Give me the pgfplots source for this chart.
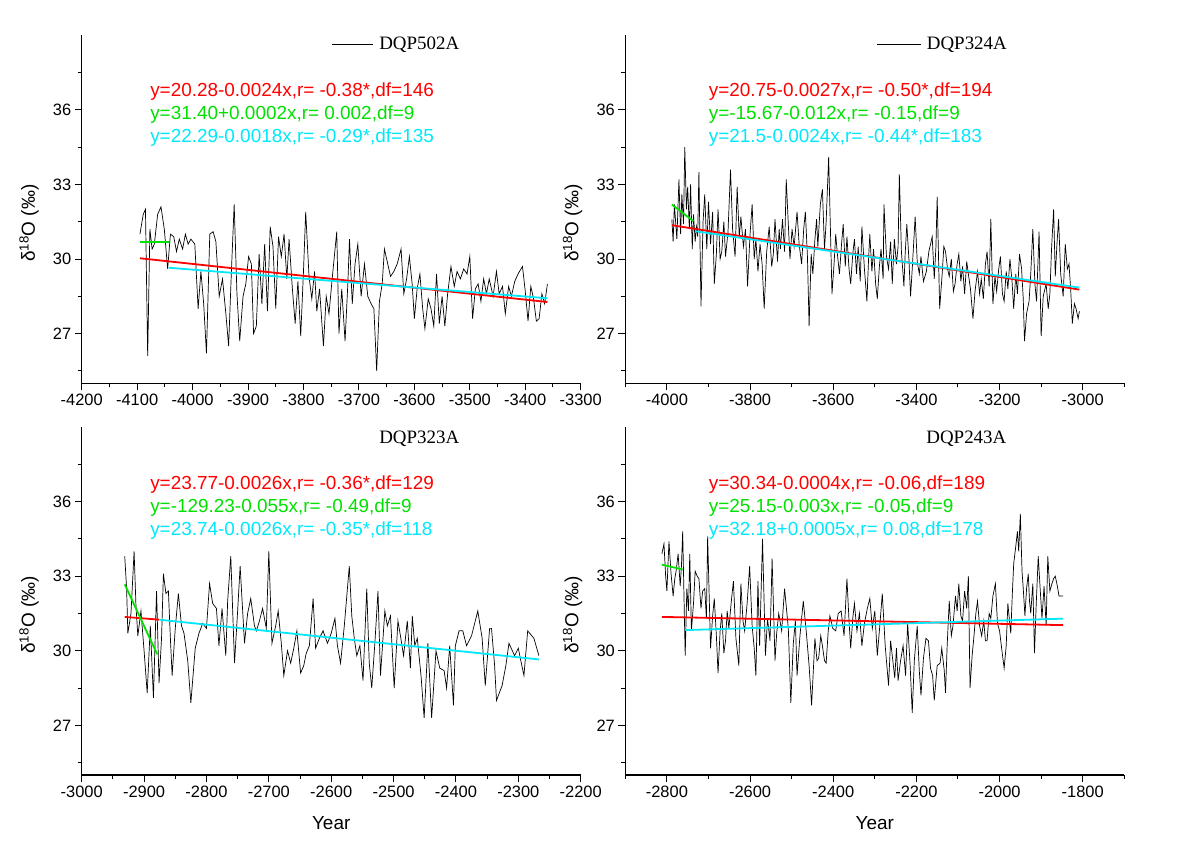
\documentclass[border=0pt]{standalone}
\usepackage{fontspec}
\setmainfont{Liberation Sans}
\newfontfamily\timesf{Liberation Serif}
\usepackage{pgfplots}
\pgfplotsset{compat=1.18}
\definecolor{rl}{RGB}{255,0,0}
\definecolor{gl}{RGB}{0,225,0}
\definecolor{cl}{RGB}{0,232,250}
\tikzset{
 eq/.style={anchor=west, inner sep=0pt, font=\fontsize{19}{19}\selectfont},
 ttl/.style={anchor=west, inner sep=0pt, font=\timesf\fontsize{19}{19}\selectfont},
}
\pgfplotsset{
 panel/.style={
   scale only axis, width=499bp, height=348bp,
   ymin=25, ymax=39, ytick={27,30,33,36}, minor ytick={25.5,28.5,31.5,34.5,37.5},
   axis x line*=bottom, axis y line*=left,
   axis line style={line width=1.1bp, -},
   tick align=outside, major tick length=7bp, minor tick length=4bp,
   every tick/.style={black, line width=1bp},
   tick label style={font=\fontsize{16.5}{16.5}\selectfont},
   /pgf/number format/assume math mode=true,
   /pgf/number format/1000 sep={},
   ylabel={δ\textsuperscript{18}O (‰)},
   ylabel style={at={(axis description cs:-0.1056,0.46)}, anchor=center, font=\fontsize{19}{19}\selectfont},
   xlabel style={at={(axis description cs:0.5,-0.138)}, anchor=center, font=\fontsize{19}{19}\selectfont},
 },
 ser/.style={black, line width=0.7bp, no marks},
 reg/.style={line width=1.8bp, no marks},
}
\begin{document}
\begin{tikzpicture}
\useasboundingbox (0,0) rectangle (1184bp,-843bp);
% ---------------- Panel 1
\begin{axis}[panel, at={(81.7bp,-383.3bp)}, anchor=south west,
  xmin=-4200, xmax=-3300, xtick={-4200,-4100,...,-3300}, minor xtick={-4150,-4050,...,-3350}]
\addplot[ser] coordinates {
(-4095,31.0)(-4089,31.8)(-4085,32.0)(-4081,26.1)(-4077,31.2)(-4073,30.4)(-4069,30.6)(-4063,31.8)(-4057,32.1)(-4051,31.2)
(-4045,29.6)(-4040,31.0)(-4034,30.9)(-4029,30.3)(-4024,30.8)(-4018,30.4)(-4013,31.0)(-4008,30.6)(-4003,30.8)(-3996,30.6)
(-3990,28.0)(-3985,29.5)(-3980,28.2)(-3975,26.2)(-3969,31.0)(-3963,31.1)(-3958,30.7)(-3952,28.5)(-3946,29.2)(-3940,27.8)
(-3935,26.5)(-3930,29.5)(-3925,32.2)(-3920,28.6)(-3915,26.7)(-3909,28.5)(-3904,29.0)(-3899,30.1)(-3894,29.8)(-3890,27.0)
(-3885,27.3)(-3880,30.2)(-3875,28.2)(-3870,30.6)(-3865,27.9)(-3860,31.3)(-3855,30.5)(-3850,28.0)(-3845,30.9)(-3840,30.1)
(-3835,31.0)(-3830,29.2)(-3826,30.8)(-3820,28.8)(-3815,27.4)(-3810,29.1)(-3805,26.9)(-3800,29.5)(-3796,31.9)(-3790,29.3)
(-3785,28.4)(-3780,29.5)(-3776,27.9)(-3771,28.8)(-3764,26.5)(-3759,28.5)(-3754,27.8)(-3747,29.5)(-3740,31.1)(-3736,27.0)
(-3731,28.8)(-3725,26.7)(-3720,29.0)(-3717,30.8)(-3712,28.2)(-3707,29.8)(-3702,30.6)(-3696,28.5)(-3690,29.8)(-3684,28.5)
(-3678,28.2)(-3673,28.0)(-3668,25.5)(-3663,28.3)(-3658,29.0)(-3654,30.4)(-3648,29.8)(-3643,29.3)(-3637,29.5)(-3631,29.8)
(-3624,30.4)(-3619,28.6)(-3614,29.2)(-3609,30.1)(-3604,29.0)(-3600,27.6)(-3595,28.8)(-3590,29.4)(-3585,28.0)(-3581,27.2)
(-3575,28.4)(-3570,28.0)(-3565,27.3)(-3560,29.4)(-3555,27.4)(-3550,28.5)(-3545,27.3)(-3540,28.6)(-3534,29.7)(-3528,28.9)
(-3523,29.5)(-3517,29.2)(-3511,29.6)(-3505,29.4)(-3500,30.1)(-3495,27.6)(-3490,28.8)(-3485,29.0)(-3480,28.3)(-3475,29.2)
(-3470,28.6)(-3465,29.2)(-3458,28.5)(-3452,29.5)(-3447,28.6)(-3441,28.9)(-3436,27.8)(-3430,28.9)(-3425,28.5)(-3419,29.1)
(-3413,29.4)(-3405,29.7)(-3400,28.7)(-3395,27.5)(-3390,28.9)(-3385,28.4)(-3380,27.5)(-3375,27.6)(-3370,28.6)(-3365,28.2)(-3360,29.0)};
\addplot[reg, rl] coordinates {(-4095,30.03)(-3360,28.27)};
\addplot[reg, gl] coordinates {(-4095,30.70)(-4043,30.70)};
\addplot[reg, cl] coordinates {(-4043,29.65)(-3360,28.42)};
\draw[black, line width=0.8bp] (axis description cs:0.502,0.974) -- (axis description cs:0.584,0.974);
\node[ttl] at (axis description cs:0.596,0.974) {DQP502A};
\node[eq, text=rl] at (axis description cs:0.137,0.839) {y=20.28-0.0024x,r= -0.38*,df=146};
\node[eq, text=gl] at (axis description cs:0.137,0.773) {y=31.40+0.0002x,r= 0.002,df=9};
\node[eq, text=cl] at (axis description cs:0.137,0.707) {y=22.29-0.0018x,r= -0.29*,df=135};
\end{axis}
% ---------------- Panel 2
\begin{axis}[panel, at={(625.3bp,-383.3bp)}, anchor=south west,
  xmin=-4100, xmax=-2900, xtick={-4000,-3800,...,-3000}, minor xtick={-4100,-3900,...,-2900}]
\addplot[ser] coordinates {
(-3988,31.6)(-3985,30.7)(-3982,32.2)(-3976,30.8)(-3971,33.2)(-3967,31.0)(-3964,32.6)(-3960,31.4)(-3957,34.5)(-3953,32.0)
(-3950,32.9)(-3946,31.2)(-3943,33.0)(-3939,30.4)(-3936,31.8)(-3932,30.7)(-3929,31.3)(-3926,30.9)(-3923,33.5)(-3918,28.1)
(-3913,31.5)(-3909,32.6)(-3904,30.4)(-3900,32.3)(-3895,30.6)(-3890,31.9)(-3886,29.0)(-3881,30.2)(-3877,32.0)(-3872,30.0)
(-3868,30.3)(-3863,31.5)(-3859,30.1)(-3853,31.1)(-3847,33.6)(-3842,31.2)(-3836,30.1)(-3831,32.9)(-3826,30.9)(-3822,31.7)
(-3816,30.5)(-3811,31.2)(-3806,28.9)(-3800,31.0)(-3795,32.2)(-3790,30.0)(-3786,30.8)(-3781,29.5)(-3776,30.6)(-3771,29.8)
(-3766,28.0)(-3760,30.3)(-3754,31.3)(-3748,29.7)(-3744,30.2)(-3740,31.6)(-3734,29.9)(-3730,31.2)(-3727,30.4)(-3722,31.6)
(-3717,30.3)(-3713,33.2)(-3708,31.4)(-3704,30.0)(-3699,31.2)(-3694,30.5)(-3687,31.9)(-3682,30.6)(-3676,29.8)(-3671,31.2)
(-3667,31.9)(-3662,30.1)(-3658,27.3)(-3653,30.2)(-3649,29.4)(-3644,30.8)(-3640,31.6)(-3637,30.5)(-3631,32.2)(-3626,32.8)
(-3621,30.4)(-3617,31.5)(-3611,34.1)(-3606,30.7)(-3603,28.6)(-3598,29.8)(-3594,31.0)(-3590,30.2)(-3585,29.4)(-3580,30.6)
(-3576,31.4)(-3571,29.7)(-3567,30.9)(-3562,29.6)(-3558,29.0)(-3553,30.2)(-3549,30.8)(-3544,29.4)(-3540,30.5)(-3535,29.1)
(-3531,31.3)(-3525,29.6)(-3519,28.3)(-3515,30.0)(-3512,31.0)(-3507,29.5)(-3503,30.4)(-3498,29.0)(-3494,28.4)(-3489,29.7)
(-3485,30.4)(-3480,29.2)(-3478,32.2)(-3472,30.1)(-3467,29.6)(-3462,30.7)(-3458,29.0)(-3453,30.8)(-3448,29.8)(-3444,30.5)
(-3441,33.4)(-3436,30.3)(-3430,28.9)(-3427,30.2)(-3423,31.4)(-3418,30.0)(-3414,28.5)(-3410,29.6)(-3403,31.7)(-3398,29.9)
(-3393,29.4)(-3389,30.1)(-3383,29.1)(-3376,29.5)(-3370,30.3)(-3362,30.9)(-3357,29.2)(-3353,30.5)(-3350,32.5)(-3344,28.0)
(-3338,29.4)(-3334,30.5)(-3330,30.3)(-3325,29.6)(-3321,29.3)(-3316,30.0)(-3311,28.7)(-3307,29.0)(-3302,29.8)(-3298,30.2)
(-3293,29.1)(-3289,29.7)(-3284,28.6)(-3279,29.9)(-3275,29.4)(-3270,28.8)(-3264,27.6)(-3259,28.7)(-3253,29.5)(-3248,28.6)
(-3244,29.2)(-3239,28.4)(-3234,29.8)(-3230,30.3)(-3225,28.9)(-3221,31.6)(-3216,28.2)(-3211,29.3)(-3207,28.7)(-3202,29.6)
(-3198,30.1)(-3193,28.6)(-3189,28.3)(-3184,29.5)(-3180,28.8)(-3175,30.0)(-3170,29.1)(-3166,28.0)(-3161,29.4)(-3157,28.6)
(-3152,30.2)(-3147,29.6)(-3143,28.4)(-3140,26.7)(-3135,27.8)(-3129,28.3)(-3125,29.4)(-3120,31.2)(-3115,29.0)(-3111,28.3)
(-3105,31.1)(-3100,26.9)(-3095,28.5)(-3088,29.0)(-3083,28.0)(-3079,28.6)(-3075,30.4)(-3070,32.0)(-3066,29.3)(-3062,30.6)
(-3058,31.6)(-3053,29.4)(-3047,28.5)(-3042,30.6)(-3037,29.6)(-3033,29.8)(-3029,28.8)(-3025,27.4)(-3020,28.2)(-3016,28.0)
(-3011,27.6)(-3008,27.9)};
\addplot[reg, rl] coordinates {(-3988,31.36)(-3008,28.77)};
\addplot[reg, gl] coordinates {(-3988,32.19)(-3936,31.52)};
\addplot[reg, cl] coordinates {(-3932,31.12)(-3008,28.85)};
\draw[black, line width=0.8bp] (axis description cs:0.504,0.974) -- (axis description cs:0.592,0.974);
\node[ttl] at (axis description cs:0.604,0.974) {DQP324A};
\node[eq, text=rl] at (axis description cs:0.167,0.839) {y=20.75-0.0027x,r= -0.50*,df=194};
\node[eq, text=gl] at (axis description cs:0.167,0.773) {y=-15.67-0.012x,r= -0.15,df=9};
\node[eq, text=cl] at (axis description cs:0.167,0.707) {y=21.5-0.0024x,r= -0.44*,df=183};
\end{axis}
% ---------------- Panel 3
\begin{axis}[panel, at={(81.7bp,-775bp)}, anchor=south west, xlabel={Year},
  xmin=-3000, xmax=-2200, xtick={-3000,-2900,...,-2200}, minor xtick={-2950,-2850,...,-2250}]
\addplot[ser] coordinates {
(-2931,33.8)(-2928,32.5)(-2926,30.7)(-2921,31.5)(-2916,34.0)(-2913,31.8)(-2910,30.6)(-2905,31.6)(-2900,30.0)(-2895,28.3)
(-2890,31.0)(-2885,28.1)(-2880,32.4)(-2876,28.7)(-2872,30.5)(-2869,33.1)(-2865,32.3)(-2861,32.4)(-2858,30.6)(-2855,29.0)
(-2850,30.9)(-2845,32.3)(-2840,31.0)(-2836,30.7)(-2830,29.6)(-2825,27.9)(-2818,30.1)(-2812,30.7)(-2806,31.1)(-2800,30.9)
(-2795,32.7)(-2790,31.9)(-2784,31.7)(-2780,30.2)(-2775,31.7)(-2769,29.8)(-2766,32.0)(-2761,33.8)(-2755,29.5)(-2750,31.6)
(-2746,33.4)(-2739,30.3)(-2734,31.5)(-2729,32.1)(-2723,31.0)(-2720,30.8)(-2715,31.2)(-2710,31.7)(-2704,30.9)(-2700,34.0)
(-2695,30.3)(-2689,31.0)(-2685,31.6)(-2680,30.3)(-2676,29.0)(-2670,30.0)(-2665,29.5)(-2660,30.1)(-2655,30.8)(-2649,29.1)
(-2644,29.4)(-2640,29.9)(-2635,30.2)(-2629,32.1)(-2625,30.1)(-2619,30.5)(-2613,30.8)(-2606,30.3)(-2600,30.7)(-2594,31.3)
(-2590,30.2)(-2585,29.5)(-2579,31.0)(-2575,32.2)(-2571,33.4)(-2567,31.4)(-2563,30.5)(-2559,29.8)(-2554,30.2)(-2549,28.8)
(-2543,32.5)(-2539,29.5)(-2535,28.5)(-2530,30.3)(-2525,32.4)(-2521,29.0)(-2514,31.6)(-2510,31.0)(-2505,31.4)(-2499,28.5)
(-2493,31.2)(-2489,30.6)(-2484,29.8)(-2478,31.2)(-2473,29.3)(-2470,31.4)(-2466,30.2)(-2462,30.5)(-2456,29.0)(-2451,27.3)
(-2445,30.3)(-2439,27.3)(-2432,30.0)(-2426,29.3)(-2419,29.2)(-2415,28.5)(-2410,30.2)(-2404,27.8)(-2401,30.2)(-2395,30.8)
(-2389,30.8)(-2383,30.2)(-2375,30.6)(-2370,31.1)(-2365,31.6)(-2358,30.5)(-2353,28.6)(-2346,30.9)(-2343,30.9)(-2338,29.4)
(-2335,28.0)(-2326,28.6)(-2320,29.4)(-2315,30.3)(-2306,29.8)(-2300,30.1)(-2296,29.6)(-2291,29.0)(-2285,30.8)(-2275,30.5)(-2267,29.8)};
\addplot[reg, rl] coordinates {(-2931,31.36)(-2876,31.25)};
\addplot[reg, gl] coordinates {(-2931,32.67)(-2879,29.86)};
\addplot[reg, cl] coordinates {(-2876,31.25)(-2267,29.65)};
\node[ttl] at (axis description cs:0.596,0.966) {DQP323A};
\node[eq, text=rl] at (axis description cs:0.137,0.834) {y=23.77-0.0026x,r= -0.36*,df=129};
\node[eq, text=gl] at (axis description cs:0.137,0.768) {y=-129.23-0.055x,r= -0.49,df=9};
\node[eq, text=cl] at (axis description cs:0.137,0.702) {y=23.74-0.0026x,r= -0.35*,df=118};
\end{axis}
% ---------------- Panel 4
\begin{axis}[panel, at={(625.3bp,-775bp)}, anchor=south west, xlabel={Year},
  xmin=-2900, xmax=-1700, xtick={-2800,-2600,...,-1800}, minor xtick={-2900,-2700,...,-1700}]
\addplot[ser] coordinates {
(-2812,33.9)(-2807,34.3)(-2803,33.0)(-2800,32.4)(-2795,34.4)(-2790,33.1)(-2785,32.2)(-2781,32.9)(-2777,33.3)(-2773,33.9)
(-2768,32.6)(-2765,33.4)(-2762,34.8)(-2756,29.8)(-2752,32.5)(-2748,31.6)(-2745,33.9)(-2741,30.8)(-2736,31.9)(-2732,33.2)
(-2727,33.0)(-2723,32.9)(-2718,31.7)(-2714,32.4)(-2709,32.5)(-2705,31.3)(-2702,34.6)(-2695,30.1)(-2690,31.4)(-2686,32.1)
(-2681,30.6)(-2677,29.1)(-2672,30.8)(-2668,31.5)(-2663,29.9)(-2659,30.4)(-2655,31.6)(-2651,30.9)(-2645,32.0)(-2640,32.8)
(-2634,30.5)(-2627,29.4)(-2622,32.7)(-2617,31.2)(-2613,30.8)(-2607,31.9)(-2601,33.4)(-2595,31.0)(-2590,30.1)(-2586,29.0)
(-2581,32.8)(-2577,30.2)(-2570,34.5)(-2563,29.8)(-2558,31.3)(-2552,30.4)(-2547,33.7)(-2540,29.6)(-2536,30.7)(-2531,31.5)
(-2524,30.8)(-2517,32.5)(-2508,30.9)(-2502,27.9)(-2496,30.3)(-2491,31.2)(-2487,29.0)(-2480,30.6)(-2472,32.0)(-2465,30.8)
(-2458,29.4)(-2452,27.8)(-2444,30.5)(-2439,29.6)(-2435,29.7)(-2430,30.6)(-2426,30.2)(-2421,29.6)(-2417,29.5)(-2412,30.8)
(-2408,31.4)(-2401,30.9)(-2394,30.8)(-2388,31.5)(-2381,31.6)(-2374,30.6)(-2367,32.9)(-2362,31.2)(-2358,30.1)(-2353,31.3)
(-2349,31.9)(-2343,30.8)(-2337,31.5)(-2331,30.2)(-2325,31.1)(-2318,31.7)(-2312,32.1)(-2306,30.9)(-2300,31.6)(-2294,29.8)
(-2288,31.0)(-2282,32.3)(-2275,30.2)(-2270,29.2)(-2267,28.6)(-2262,30.4)(-2258,29.8)(-2252,28.9)(-2248,30.1)(-2244,28.8)
(-2238,29.6)(-2232,30.2)(-2226,29.0)(-2221,31.1)(-2215,29.4)(-2210,27.5)(-2205,29.6)(-2198,31.0)(-2193,29.2)(-2189,28.2)
(-2183,29.7)(-2177,30.5)(-2171,30.4)(-2166,29.3)(-2161,29.0)(-2157,28.0)(-2150,29.4)(-2143,29.5)(-2139,30.1)(-2133,29.2)
(-2130,28.3)(-2126,30.2)(-2121,32.0)(-2116,30.6)(-2112,31.0)(-2106,32.2)(-2102,31.6)(-2098,32.7)(-2093,31.4)(-2089,31.2)
(-2084,32.4)(-2079,31.7)(-2075,33.0)(-2071,28.5)(-2066,29.8)(-2062,30.5)(-2057,31.5)(-2053,32.0)(-2048,31.0)(-2043,30.6)
(-2038,31.2)(-2034,30.4)(-2030,30.4)(-2025,31.5)(-2021,31.3)(-2016,32.2)(-2010,32.7)(-2005,31.1)(-2000,30.8)(-1995,30.1)
(-1989,29.3)(-1984,30.2)(-1980,31.9)(-1975,31.0)(-1973,30.7)(-1969,32.4)(-1966,33.5)(-1961,34.2)(-1957,34.8)(-1954,34.0)
(-1950,35.5)(-1946,33.2)(-1943,32.5)(-1939,31.4)(-1935,32.5)(-1931,33.1)(-1928,32.0)(-1925,31.5)(-1920,32.7)(-1916,29.9)
(-1912,31.8)(-1907,33.8)(-1902,32.4)(-1898,31.3)(-1893,32.6)(-1888,31.0)(-1884,33.8)(-1879,32.4)(-1874,32.7)(-1870,32.9)
(-1866,33.0)(-1861,32.6)(-1857,32.2)(-1847,32.2)};
\addplot[reg, rl] coordinates {(-2812,31.36)(-1847,31.03)};
\addplot[reg, gl] coordinates {(-2812,33.46)(-2762,33.27)};
\addplot[reg, cl] coordinates {(-2756,30.83)(-1847,31.29)};
\node[ttl] at (axis description cs:0.603,0.966) {DQP243A};
\node[eq, text=rl] at (axis description cs:0.167,0.834) {y=30.34-0.0004x,r= -0.06,df=189};
\node[eq, text=gl] at (axis description cs:0.167,0.768) {y=25.15-0.003x,r= -0.05,df=9};
\node[eq, text=cl] at (axis description cs:0.167,0.702) {y=32.18+0.0005x,r= 0.08,df=178};
\end{axis}
\end{tikzpicture}
\end{document}
